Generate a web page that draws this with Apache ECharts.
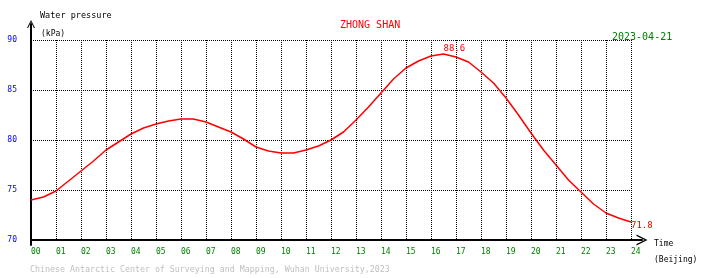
<!DOCTYPE html>
<html>
<head>
<meta charset="utf-8">
<script src="https://cdn.jsdelivr.net/npm/echarts@6/dist/echarts.min.js"></script>
<style>html,body{margin:0;padding:0;background:#fff;}#c{width:710px;height:278px;}</style>
</head>
<body>
<div id="c"></div>
<script>
// Data (hours, Beijing time; water pressure kPa)
var hours = [0,0.5,1,1.5,2,2.5,3,3.5,4,4.5,5,5.5,6,6.5,7,7.5,8,8.5,9,9.5,10,10.5,11,11.5,12,12.5,13,13.5,14,14.5,15,15.5,16,16.5,17,17.5,18,18.5,19,19.5,20,20.5,21,21.5,22,22.5,23,23.5,24];
var pressure = [74.0,74.3,74.9,75.9,76.9,77.9,79.0,79.8,80.6,81.2,81.6,81.9,82.1,82.1,81.8,81.3,80.8,80.1,79.3,78.9,78.7,78.7,79.0,79.4,80.0,80.8,82.0,83.3,84.7,86.1,87.2,87.9,88.4,88.6,88.3,87.8,86.8,85.7,84.2,82.5,80.7,79.0,77.5,76.0,74.8,73.6,72.7,72.2,71.8];
var yTicks = [70, 75, 80, 85, 90];
var xTickLabels = ['00','01','02','03','04','05','06','07','08','09','10','11','12','13','14','15','16','17','18','19','20','21','22','23','24'];
var station = 'ZHONG SHAN';
var dateText = '2023-04-21';

var FONT = '"DejaVu Sans Mono", "Liberation Mono", monospace';
var seriesData = hours.map(function (h, i) { return [h, pressure[i]]; });
var peakIdx = 0;
pressure.forEach(function (v, i) { if (v > pressure[peakIdx]) peakIdx = i; });
var lastIdx = pressure.length - 1;

var arrow = 'path://M5,0 L10,10 L8.6,10 L5,2.6 L1.4,10 L0,10 Z';

var chart = echarts.init(document.getElementById('c'), null, {renderer: 'canvas'});
chart.setOption({
  animation: false,
  backgroundColor: '#ffffff',
  grid: [
    {left: 31, right: 79, top: 40, bottom: 38, outerBoundsMode: 'none', containLabel: false},
    {left: 31, right: 68, top: 24, bottom: 33, outerBoundsMode: 'none', containLabel: false}
  ],
  xAxis: [
    {
      type: 'value', gridIndex: 0, min: 0, max: 24, interval: 1,
      axisLine: {show: false}, axisTick: {show: false},
      splitLine: {show: true, lineStyle: {color: '#000', width: 1, type: [1, 1]}},
      axisLabel: {
        show: true, color: '#008000', fontFamily: FONT, fontSize: 8, align: 'left', margin: 8,
        showMinLabel: true, showMaxLabel: true,
        formatter: function (v) { return xTickLabels[Math.round(v)]; }
      }
    },
    {
      type: 'value', gridIndex: 1, min: 0, max: 1,
      axisLine: {show: true, onZero: true, lineStyle: {color: '#000', width: 2}, symbol: ['none', arrow], symbolSize: [11, 11]},
      axisTick: {show: false}, axisLabel: {show: false}, splitLine: {show: false}
    }
  ],
  yAxis: [
    {
      type: 'value', gridIndex: 0, min: yTicks[0], max: yTicks[yTicks.length - 1], interval: 5,
      axisLine: {show: false}, axisTick: {show: false},
      splitLine: {show: true, lineStyle: {color: '#000', width: 1, type: [1, 1]}},
      axisLabel: {color: '#0000ff', fontFamily: FONT, fontSize: 8, margin: 14, padding: [0, 0, 5, 0]}
    },
    {
      type: 'value', gridIndex: 1, min: -5, max: 216,
      axisLine: {show: true, onZero: true, lineStyle: {color: '#000', width: 2}, symbol: ['none', arrow], symbolSize: [8, 9]},
      axisTick: {show: false}, axisLabel: {show: false}, splitLine: {show: false}
    }
  ],
  series: [{
    type: 'line', xAxisIndex: 0, yAxisIndex: 0,
    data: seriesData, showSymbol: false, smooth: false,
    lineStyle: {color: '#ff0000', width: 1.5},
    itemStyle: {color: '#ff0000'},
    markPoint: {
      symbol: 'circle', symbolSize: 0,
      data: [
        {coord: seriesData[peakIdx], value: pressure[peakIdx],
         label: {position: [0, 0], align: 'left', verticalAlign: 'bottom', offset: [0, -1]}},
        {coord: seriesData[lastIdx], value: pressure[lastIdx],
         label: {position: [0, 0], align: 'left', verticalAlign: 'middle', offset: [0, 4]}}
      ],
      label: {show: true, color: '#ff0000', fontFamily: FONT, fontSize: 9,
        formatter: function (p) { return p.value.toFixed(1); }}
    }
  }],
  graphic: [
    {type: 'text', x: 40, y: 16, style: {text: 'Water pressure', font: '8.5px ' + FONT, fill: '#000', verticalAlign: 'middle'}},
    {type: 'text', x: 41, y: 34, style: {text: '(kPa)', font: '8px ' + FONT, fill: '#000', verticalAlign: 'middle'}},
    {type: 'text', x: 340, y: 25, style: {text: station, font: '10px ' + FONT, fill: '#ff0000', verticalAlign: 'middle'}},
    {type: 'text', x: 612, y: 37, style: {text: dateText, font: '10px ' + FONT, fill: '#008000', verticalAlign: 'middle'}},
    {type: 'text', x: 654, y: 244, style: {text: 'Time', font: '8px ' + FONT, fill: '#000', verticalAlign: 'middle'}},
    {type: 'text', x: 654, y: 260, style: {text: '(Beijing)', font: '8px ' + FONT, fill: '#000', verticalAlign: 'middle'}},
    {type: 'text', x: 30, y: 270, style: {text: 'Chinese Antarctic Center of Surveying and Mapping, Wuhan University,2023', font: '8.3px ' + FONT, fill: '#c0c0c0', verticalAlign: 'middle'}}
  ]
});
</script>
</body>
</html>
